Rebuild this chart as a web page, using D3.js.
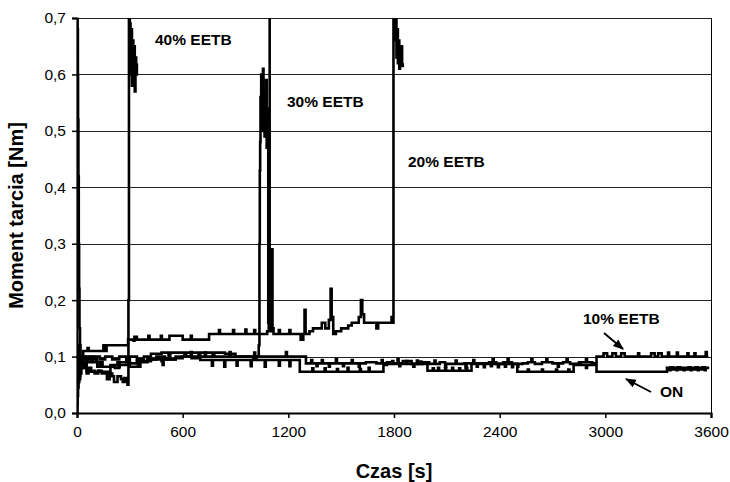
<!DOCTYPE html>
<html>
<head>
<meta charset="utf-8">
<script src="https://cdn.jsdelivr.net/npm/d3@7"></script>
<style>
  body { margin: 0; background: #fff; }
  text { font-family: "Liberation Sans", Arial, sans-serif; }
</style>
</head>
<body>
<div id="chart"></div>
<script>
// czas [s], moment tarcia [Nm]
var seriesON = [
  [0, 0.0], [2, 0.015], [4, 0.03], [6, 0.045], [9, 0.055], [13, 0.065], [18, 0.07],
  [25, 0.08], [35, 0.085], [45, 0.08], [55, 0.073], [120, 0.075], [126, 0.073],
  [190, 0.085], [230, 0.09], [236, 0.082], [242, 0.09], [300, 0.088], [340, 0.092],
  [346, 0.085], [352, 0.092], [420, 0.095], [480, 0.092], [486, 0.085], [492, 0.095],
  [560, 0.097], [600, 0.1], [650, 0.097], [700, 0.094], [760, 0.094], [766, 0.084],
  [772, 0.094], [830, 0.094], [836, 0.082], [842, 0.094], [900, 0.094], [906, 0.084],
  [912, 0.094], [980, 0.094], [986, 0.083], [992, 0.094], [1060, 0.094], [1066, 0.082],
  [1072, 0.094], [1140, 0.094], [1146, 0.084], [1152, 0.094], [1200, 0.094], [1206, 0.083],
  [1212, 0.094], [1265, 0.073], [1330, 0.073], [1336, 0.079], [1342, 0.073],
  [1400, 0.073], [1406, 0.079], [1412, 0.073], [1470, 0.073], [1476, 0.078], [1482, 0.073],
  [1530, 0.073], [1536, 0.08], [1542, 0.073], [1600, 0.073], [1606, 0.078], [1612, 0.073],
  [1650, 0.073], [1656, 0.08], [1662, 0.073], [1740, 0.085], [1760, 0.087], [1790, 0.092],
  [1796, 0.087], [1830, 0.083], [1836, 0.087], [1870, 0.092], [1876, 0.087], [1910, 0.082],
  [1916, 0.087], [1950, 0.091], [1956, 0.087], [1990, 0.075], [2020, 0.079], [2026, 0.075],
  [2050, 0.08], [2056, 0.075], [2090, 0.079], [2096, 0.075], [2130, 0.08], [2136, 0.075],
  [2170, 0.079], [2176, 0.075], [2210, 0.08], [2216, 0.075], [2240, 0.087], [2270, 0.082],
  [2276, 0.087], [2310, 0.081], [2316, 0.087], [2350, 0.083], [2356, 0.087], [2390, 0.081],
  [2396, 0.087], [2430, 0.082], [2436, 0.087], [2470, 0.081], [2476, 0.087], [2500, 0.073],
  [2560, 0.077], [2566, 0.073], [2640, 0.077], [2646, 0.073], [2720, 0.077], [2726, 0.073],
  [2790, 0.077], [2796, 0.073], [2820, 0.085], [2850, 0.09], [2856, 0.085], [2890, 0.08],
  [2896, 0.085], [2920, 0.09], [2926, 0.085], [2950, 0.073], [3350, 0.08], [3365, 0.076],
  [3370, 0.081], [3385, 0.077], [3392, 0.08], [3405, 0.076], [3410, 0.081], [3425, 0.077],
  [3432, 0.08], [3445, 0.076], [3450, 0.08], [3465, 0.077], [3472, 0.081], [3485, 0.076],
  [3490, 0.08], [3505, 0.077], [3512, 0.081], [3525, 0.076], [3530, 0.08], [3545, 0.077],
  [3552, 0.081], [3565, 0.076], [3570, 0.08], [3590, 0.08]
];
var series10 = [
  [0, 0.05], [3, 0.09], [8, 0.07], [14, 0.1], [20, 0.085], [30, 0.095], [45, 0.1],
  [60, 0.09], [80, 0.1], [100, 0.095], [115, 0.082], [130, 0.09], [145, 0.082],
  [215, 0.08], [240, 0.085], [300, 0.082], [360, 0.09], [400, 0.095], [450, 0.1],
  [500, 0.095], [560, 0.1], [640, 0.1], [646, 0.108], [652, 0.1], [720, 0.1], [726, 0.107],
  [732, 0.1], [800, 0.1], [860, 0.1], [866, 0.108], [872, 0.1], [950, 0.1], [1000, 0.1],
  [1006, 0.107], [1012, 0.1], [1100, 0.1], [1180, 0.1], [1186, 0.108], [1192, 0.1],
  [1250, 0.1], [1300, 0.088], [1330, 0.094], [1336, 0.088], [1360, 0.083], [1366, 0.088],
  [1390, 0.094], [1396, 0.088], [1430, 0.082], [1436, 0.088], [1470, 0.095], [1476, 0.088],
  [1510, 0.083], [1516, 0.088], [1560, 0.094], [1566, 0.088], [1600, 0.082], [1606, 0.088],
  [1640, 0.09], [1700, 0.088], [1730, 0.094], [1736, 0.088], [1760, 0.09], [1790, 0.088],
  [1820, 0.095], [1826, 0.088], [1850, 0.092], [1900, 0.087], [1930, 0.093], [1936, 0.087],
  [1960, 0.09], [2000, 0.087], [2030, 0.093], [2036, 0.087], [2060, 0.09], [2090, 0.082],
  [2096, 0.087], [2120, 0.087], [2150, 0.093], [2156, 0.087], [2200, 0.088], [2206, 0.08],
  [2212, 0.088], [2250, 0.094], [2256, 0.088], [2300, 0.088], [2340, 0.09], [2360, 0.095],
  [2366, 0.09], [2380, 0.087], [2420, 0.09], [2445, 0.096], [2451, 0.09], [2470, 0.087],
  [2500, 0.082], [2506, 0.087], [2530, 0.088], [2560, 0.09], [2580, 0.095], [2586, 0.09],
  [2600, 0.087], [2640, 0.09], [2665, 0.095], [2671, 0.09], [2700, 0.088], [2730, 0.082],
  [2736, 0.088], [2760, 0.09], [2780, 0.095], [2786, 0.09], [2800, 0.087], [2860, 0.09],
  [2890, 0.095], [2896, 0.09], [2920, 0.088], [2950, 0.1], [2990, 0.106], [3010, 0.1],
  [3040, 0.106], [3060, 0.1], [3090, 0.106], [3110, 0.1], [3180, 0.1], [3186, 0.106],
  [3192, 0.1], [3250, 0.1], [3260, 0.106], [3280, 0.1], [3300, 0.106], [3320, 0.1],
  [3350, 0.1], [3356, 0.107], [3362, 0.1], [3400, 0.1], [3406, 0.107], [3412, 0.1],
  [3460, 0.1], [3466, 0.106], [3472, 0.1], [3500, 0.1], [3506, 0.106], [3512, 0.1],
  [3560, 0.1], [3570, 0.108], [3576, 0.1], [3585, 0.1]
];
var series20 = [
  [0, 0.1], [8, 0.12], [14, 0.09], [22, 0.1], [35, 0.11], [60, 0.115], [66, 0.11],
  [150, 0.12], [160, 0.11], [168, 0.12], [290, 0.13], [320, 0.128], [326, 0.135],
  [340, 0.13], [405, 0.137], [412, 0.13], [476, 0.137], [482, 0.13], [525, 0.137],
  [560, 0.137], [600, 0.13], [646, 0.137], [652, 0.13], [750, 0.14], [806, 0.147],
  [812, 0.14], [886, 0.147], [892, 0.14], [956, 0.148], [962, 0.14], [1006, 0.147],
  [1012, 0.14], [1080, 0.145], [1090, 0.155], [1100, 0.145], [1106, 0.29], [1110, 0.15],
  [1116, 0.14], [1146, 0.147], [1152, 0.14], [1206, 0.147], [1212, 0.14], [1270, 0.13],
  [1285, 0.14], [1292, 0.183], [1298, 0.14], [1320, 0.145], [1340, 0.15], [1390, 0.16],
  [1410, 0.15], [1430, 0.165], [1440, 0.22], [1446, 0.17], [1455, 0.14], [1470, 0.145],
  [1500, 0.15], [1540, 0.155], [1560, 0.16], [1600, 0.17], [1612, 0.2], [1620, 0.175],
  [1630, 0.16], [1700, 0.15], [1710, 0.16], [1786, 0.17], [1792, 0.16], [1797, 0.75],
  [1802, 0.69], [1806, 0.66], [1810, 0.7], [1814, 0.63], [1818, 0.68], [1822, 0.62],
  [1826, 0.66], [1830, 0.61], [1834, 0.64], [1838, 0.62], [1842, 0.65], [1846, 0.615],
  [1850, 0.62]
];
var series30 = [
  [0, 0.1], [10, 0.06], [18, 0.09], [30, 0.1], [50, 0.095], [70, 0.1], [90, 0.09],
  [110, 0.1], [130, 0.095], [160, 0.1], [200, 0.095], [240, 0.1], [280, 0.09], [300, 0.1],
  [340, 0.095], [380, 0.1], [420, 0.105], [480, 0.107], [520, 0.1], [530, 0.107],
  [610, 0.1], [620, 0.107], [690, 0.1], [700, 0.107], [770, 0.1], [780, 0.107],
  [840, 0.105], [900, 0.1], [1000, 0.095], [1020, 0.1], [1032, 0.12], [1036, 0.3],
  [1038, 0.43], [1040, 0.48], [1042, 0.56], [1044, 0.5], [1046, 0.6], [1048, 0.52],
  [1050, 0.58], [1053, 0.5], [1056, 0.61], [1059, 0.53], [1062, 0.57], [1065, 0.49],
  [1068, 0.55], [1071, 0.5], [1074, 0.59], [1077, 0.47], [1080, 0.54], [1083, 0.5],
  [1086, 0.16], [1090, 0.15], [1094, 0.78]
];
var series40 = [
  [0, 0.75], [3, 0.68], [5, 0.6], [6, 0.52], [8, 0.42], [10, 0.3], [12, 0.22], [14, 0.15],
  [17, 0.12], [20, 0.1], [25, 0.085], [30, 0.1], [35, 0.08], [45, 0.09], [55, 0.07],
  [65, 0.08], [80, 0.075], [100, 0.07], [120, 0.075], [140, 0.07], [170, 0.06],
  [185, 0.07], [200, 0.065], [210, 0.055], [230, 0.065], [250, 0.06], [260, 0.055],
  [268, 0.062], [280, 0.055], [287, 0.05], [292, 0.2], [295, 0.75], [300, 0.69],
  [304, 0.6], [308, 0.68], [312, 0.58], [316, 0.66], [320, 0.6], [324, 0.65], [328, 0.57],
  [332, 0.63], [336, 0.6], [340, 0.62]
];
var allSeries = [seriesON, series10, series20, series30, series40];

var xTicks = [0, 600, 1200, 1800, 2400, 3000, 3600];
var yTicks = [0, 0.1, 0.2, 0.3, 0.4, 0.5, 0.6, 0.7];

var labels = [
  { text: "40% EETB", x: 155, y: 45 },
  { text: "30% EETB", x: 287, y: 107 },
  { text: "20% EETB", x: 408, y: 167 },
  { text: "10% EETB", x: 583, y: 324 },
  { text: "ON", x: 660, y: 397 }
];

var width = 730, height = 482;
var margin = { top: 18, right: 19, bottom: 69, left: 77 };
var w = width - margin.left - margin.right;
var h = height - margin.top - margin.bottom;

var svg = d3.select("#chart")
  .append("svg")
  .attr("width", width)
  .attr("height", height);

var x = d3.scaleLinear().domain([0, 3600]).range([0, w]);
var y = d3.scaleLinear().domain([0, 0.7]).range([h, 0]);

var g = svg.append("g")
  .attr("transform", "translate(" + margin.left + "," + margin.top + ")");

// siatka
g.append("g")
  .selectAll("line")
  .data(yTicks.slice(1))
  .enter().append("line")
  .attr("x1", 0).attr("x2", w)
  .attr("y1", d => Math.round(y(d)) + 0.5)
  .attr("y2", d => Math.round(y(d)) + 0.5)
  .attr("stroke", "#222")
  .attr("stroke-width", 1);

g.append("line")
  .attr("x1", w + 0.5).attr("x2", w + 0.5)
  .attr("y1", 0).attr("y2", h)
  .attr("stroke", "#000");

g.append("clipPath").attr("id", "clip")
  .append("rect").attr("width", w).attr("height", h);

var line = d3.line()
  .x(d => x(d[0]))
  .y(d => y(d[1]))
  .curve(d3.curveStepAfter);

g.append("g")
  .attr("clip-path", "url(#clip)")
  .selectAll("path")
  .data(allSeries)
  .enter().append("path")
  .attr("d", line)
  .attr("fill", "none")
  .attr("stroke", "#000")
  .attr("stroke-width", 2.6)
  .attr("stroke-linejoin", "miter");

// osie
var xAxis = g.append("g")
  .attr("transform", "translate(0," + h + ")")
  .call(d3.axisBottom(x).tickValues(xTicks).tickSize(5).tickPadding(8)
    .tickFormat(d3.format("d")));
var yAxis = g.append("g")
  .call(d3.axisLeft(y).tickValues(yTicks).tickSize(5).tickPadding(6)
    .tickFormat(d => d3.format(".1f")(d).replace(".", ",")));

[xAxis, yAxis].forEach(function (a) {
  a.select(".domain").attr("stroke-width", 2.2);
  a.selectAll(".tick line").attr("stroke-width", 1.5);
  a.selectAll("text")
    .attr("font-size", 15.5)
    .attr("font-family", "Liberation Sans, Arial, sans-serif")
    .attr("fill", "#000");
});

// tytuły osi
svg.append("text")
  .text("Czas [s]")
  .attr("x", margin.left + w / 2)
  .attr("y", 478)
  .attr("text-anchor", "middle")
  .attr("font-size", 20)
  .attr("font-weight", "bold");

svg.append("text")
  .text("Moment tarcia [Nm]")
  .attr("transform", "translate(23," + (margin.top + h / 2) + ") rotate(-90)")
  .attr("text-anchor", "middle")
  .attr("font-size", 20)
  .attr("font-weight", "bold");

// opisy serii
svg.append("g")
  .selectAll("text")
  .data(labels)
  .enter().append("text")
  .text(d => d.text)
  .attr("x", d => d.x)
  .attr("y", d => d.y)
  .attr("font-size", 15.5)
  .attr("font-weight", "bold");

svg.append("defs").append("marker")
  .attr("id", "arrow")
  .attr("viewBox", "0 0 10 10")
  .attr("refX", 9).attr("refY", 5)
  .attr("markerWidth", 6).attr("markerHeight", 6)
  .attr("orient", "auto")
  .append("path")
  .attr("d", "M0,1L10,5L0,9Z")
  .attr("fill", "#000");

var arrows = [
  { x1: 604, y1: 333, x2: 623, y2: 349 },
  { x1: 651, y1: 392, x2: 626, y2: 379 }
];
svg.append("g")
  .selectAll("line")
  .data(arrows)
  .enter().append("line")
  .attr("x1", d => d.x1).attr("y1", d => d.y1)
  .attr("x2", d => d.x2).attr("y2", d => d.y2)
  .attr("stroke", "#000")
  .attr("stroke-width", 1.8)
  .attr("marker-end", "url(#arrow)");
</script>
</body>
</html>
